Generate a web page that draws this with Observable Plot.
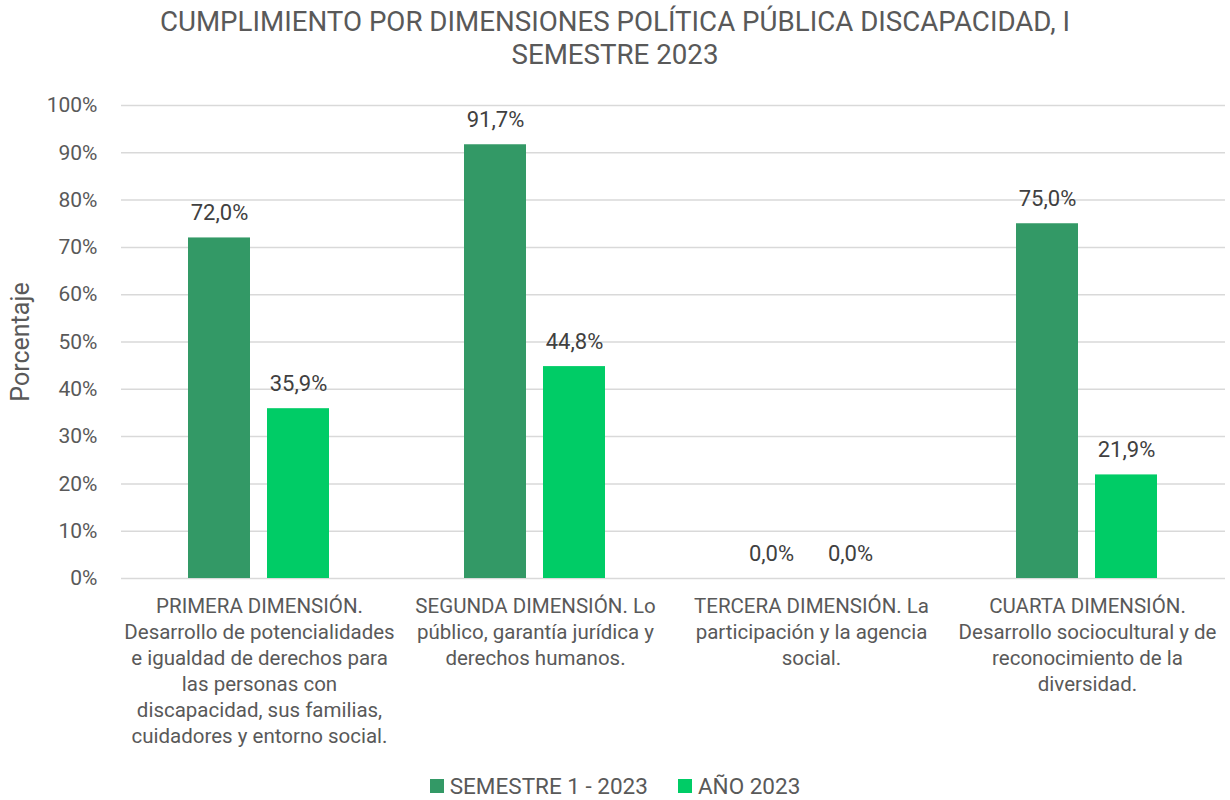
<!DOCTYPE html>
<html>
<head>
<meta charset="utf-8">
<script src="https://cdn.jsdelivr.net/npm/d3@7"></script>
<script src="https://cdn.jsdelivr.net/npm/@observablehq/plot@0.6"></script>
<style>
  body { margin: 0; background: #fff; font-family: Roboto, "Noto Sans", sans-serif; color: #595959; }
  #wrap { width: 1230px; position: relative; }
  #title { text-align: center; font-size: 27.7px; line-height: 33px; height: 75px; padding-top: 5px; box-sizing: border-box; color: #595959; }
  #chart { position: relative; }
  #ylabel { position: absolute; left: 20px; top: 342px; transform: translate(-50%, -50%) rotate(-90deg); font-size: 25px; color: #595959; white-space: nowrap; }
  #legend { display: flex; justify-content: center; align-items: center; gap: 30px; font-size: 22.5px; line-height: 26px; height: 26px; margin-top: 8px; }
  .sw { display: inline-block; width: 14px; height: 14px; margin-right: 6px; }
  .item { display: flex; align-items: center; }
</style>
</head>
<body>
<div id="wrap">
  <div id="title">CUMPLIMIENTO POR DIMENSIONES POLÍTICA PÚBLICA DISCAPACIDAD, I<br>SEMESTRE 2023</div>
  <div id="chart"></div>
  <div id="legend"></div>
  <div id="ylabel">Porcentaje</div>
</div>
<script>
const categories = [
  "PRIMERA DIMENSIÓN.\nDesarrollo de potencialidades\ne igualdad de derechos para\nlas personas con\ndiscapacidad, sus familias,\ncuidadores y entorno social.",
  "SEGUNDA DIMENSIÓN. Lo\npúblico, garantía jurídica y\nderechos humanos.",
  "TERCERA DIMENSIÓN. La\nparticipación y la agencia\nsocial.",
  "CUARTA DIMENSIÓN.\nDesarrollo sociocultural y de\nreconocimiento de la\ndiversidad."
];
const series = ["SEMESTRE 1 - 2023", "AÑO 2023"];
const semestre = [72.0, 91.7, 0.0, 75.0];
const anio = [35.9, 44.8, 0.0, 21.9];
const colors = ["#339966", "#00CC66"];
const yTicks = [0, 10, 20, 30, 40, 50, 60, 70, 80, 90, 100];
const yLabel = "Porcentaje";

const data = [];
categories.forEach((c, i) => {
  data.push({cat: c, serie: series[0], value: semestre[i]});
  data.push({cat: c, serie: series[1], value: anio[i]});
});
const fmt = v => v.toFixed(1).replace(".", ",") + "%";

const chart = Plot.plot({
  width: 1230,
  height: 690,
  marginTop: 30,
  marginBottom: 187,
  marginLeft: 121,
  marginRight: 5,
  style: {fontFamily: "Roboto, 'Noto Sans', sans-serif", fontSize: "20px", color: "#595959", background: "#fff"},
  fx: {domain: categories, padding: 0, label: null},
  x: {domain: series, paddingInner: 0.215, paddingOuter: 0.854, axis: null},
  y: {domain: [0, 100], label: null},
  color: {domain: series, range: colors},
  marks: [
    Plot.gridY(yTicks, {stroke: "#d9d9d9", strokeOpacity: 1, strokeWidth: 1.5}),
    Plot.axisY(yTicks, {tickSize: 0, tickPadding: 24, tickFormat: d => d + "%", fontSize: 21, label: null}),
    Plot.axisFx({anchor: "bottom", tickSize: 0, tickPadding: 16, lineAnchor: "top", fontSize: 20.5, label: null, lineHeight: 1.27}),
    Plot.barY(data, {fx: "cat", x: "serie", y: "value", fill: "serie"}),
    Plot.text(data, {fx: "cat", x: "serie", y: "value", text: d => fmt(d.value), dy: -25, fontSize: 22, fill: "#404040"})
  ]
});
document.getElementById("chart").appendChild(chart);
document.getElementById("ylabel").textContent = yLabel;

const legend = document.getElementById("legend");
series.forEach((s, i) => {
  const it = document.createElement("div");
  it.className = "item";
  it.innerHTML = `<span class="sw" style="background:${colors[i]}"></span>${s}`;
  legend.appendChild(it);
});
</script>
</body>
</html>
